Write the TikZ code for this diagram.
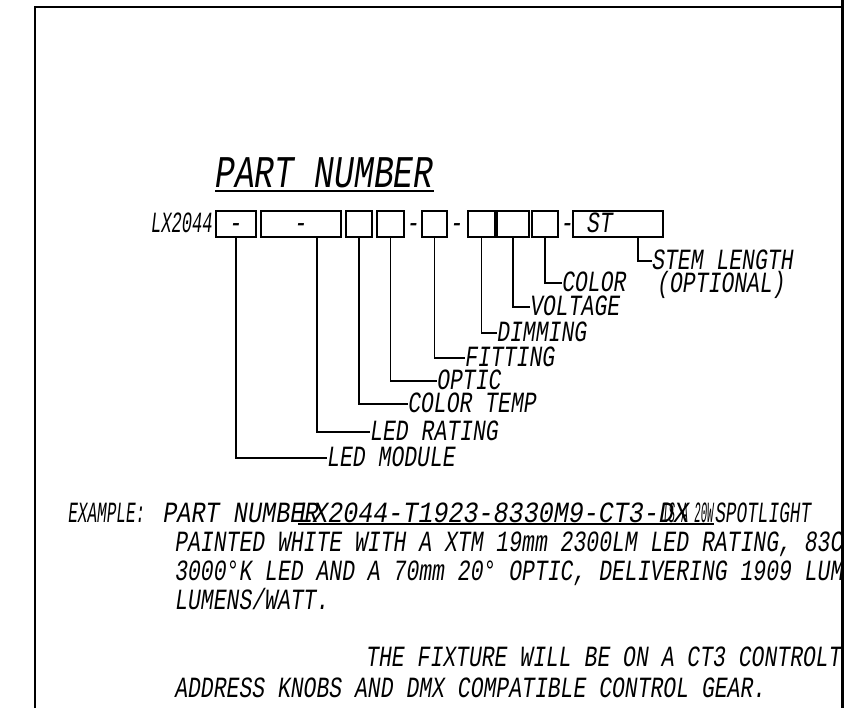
\documentclass[tikz,border=0pt]{standalone}
\usepackage{graphicx}
\usepackage{fontspec}
\setmonofont{Liberation Mono}[FakeStretch=0.73]
\usetikzlibrary{calc}

% lettering like the CAD sheet
\newcommand\cadfont{\ttfamily\itshape\fontsize{22pt}{24pt}\selectfont}
\newcommand\cadtitle{\ttfamily\itshape\fontsize{34pt}{36pt}\selectfont}

\begin{document}
\begin{tikzpicture}[x=0.75pt, y=-0.75pt,
  cell/.style={draw, line width=1pt, minimum height=19.5pt, inner sep=0pt,
    font=\cadfont, text height=12.4pt, text depth=0pt},
  mark txt/.style={font=\cadfont, inner sep=0pt, text height=12.4pt, text depth=0pt},
  lbl/.style={mark txt, anchor=west},
  txt/.style={font=\cadfont, inner sep=0pt, anchor=base west},
  lead/.style={line width=1pt}]

\useasboundingbox (0,0) rectangle (850,708);

% Sheet frame
\draw[line width=1.5pt] (35,708) -- (35,7) -- (842,7);
\draw[line width=2.25pt] (842,0) -- (842,708);

% Title
\node[font=\cadtitle, inner sep=0pt, anchor=base west] (tTitle) at (215,187) {PART NUMBER};
\draw[line width=1pt] ($(tTitle.base west)+(0,4)$) -- ($(tTitle.base east)+(0,4)$);

% Part number boxes
\node[mark txt, anchor=east] (tCode) at (213,224) {\scalebox{0.8}[1]{LX2044}};
\node[cell, minimum width=30pt] (bModule) at (236,224) {-};
\node[cell, minimum width=60pt] (bRating) at (301,224) {-};
\node[cell, minimum width=19.5pt] (bTemp) at (359,224) {};
\node[cell, minimum width=20.25pt] (bOptic) at (390.5,224) {};
\node[mark txt] (dA) at (413.5,224) {-};
\node[cell, minimum width=18.75pt] (bFitting) at (434.5,224) {};
\node[mark txt] (dB) at (457,224) {-};
\node[cell, minimum width=20.25pt] (bDimming) at (481.5,224) {};
\node[cell, minimum width=24pt] (bVoltage) at (513,224) {};
\node[cell, minimum width=19.5pt] (bColor) at (545,224) {};
\node[mark txt] (dC) at (567.5,224) {-};
\node[cell, minimum width=67.5pt] (bStem) at (618,224) {};
\node[mark txt] (tST) at (600,224) {ST};

% Field names
\node[lbl] (lModule) at (327,458) {LED MODULE};
\node[lbl] (lRating) at (370,432) {LED RATING};
\node[lbl] (lTemp) at (408,404) {COLOR TEMP};
\node[lbl] (lOptic) at (437,381) {OPTIC};
\node[lbl] (lFitting) at (465,358) {FITTING};
\node[lbl] (lDimming) at (497,333) {DIMMING};
\node[lbl] (lVoltage) at (530,307) {VOLTAGE};
\node[lbl] (lColor) at (562,283) {COLOR};
\node[lbl] (lStem) at (652,261) {STEM LENGTH};
\node[lbl] (lOpt) at (657,284) {(OPTIONAL)};

% Leaders
\draw[lead] (bModule.south) |- (lModule.west);
\draw[lead] ($(bRating.south)+(16,0)$) |- (lRating.west);
\draw[lead] (bTemp.south) |- (lTemp.west);
\draw[lead] (bOptic.south) |- (lOptic.west);
\draw[lead] (bFitting.south) |- (lFitting.west);
\draw[lead] (bDimming.south) |- (lDimming.west);
\draw[lead] (bVoltage.south) |- (lVoltage.west);
\draw[lead] (bColor.south) |- (lColor.west);
\draw[lead] ($(bStem.south)+(20,0)$) |- (lStem.west);

% Example text (cut off by the frame)
\begin{scope}
\clip (36,8) rectangle (841,708);
\node[txt] (eHead) at (68,522) {\scalebox{0.75}[1]{EXAMPLE:}};
\node[txt] (ePart) at (163,522) {\scalebox{1.1}[1]{PART NUMBER}};
\node[txt] (eCode) at (298,522) {\scalebox{1.17}[1]{LX2044-T1923-8330M9-CT3-DX}};
\node[txt] (eIs) at (662,522) {\scalebox{0.5}[1]{IS A 20W}};
\node[txt] (eSpot) at (715,522) {\scalebox{0.83}[1]{SPOTLIGHT}};
\draw[line width=0.8pt] ($(eCode.base west)+(0,2)$) -- ($(eIs.base east)+(0,2)$);
\node[txt] (eLineB) at (175,551) {PAINTED WHITE WITH A XTM 19mm 2300LM LED RATING, 83C};
\node[txt] (eLineC) at (175,580) {3000°K LED AND A 70mm 20° OPTIC, DELIVERING 1909 LUME};
\node[txt] (eLineD) at (175,609) {LUMENS/WATT.};
\node[txt] (eLineE) at (366,666) {THE FIXTURE WILL BE ON A CT3 CONTROLTR};
\node[txt] (eLineF) at (175,697) {ADDRESS KNOBS AND DMX COMPATIBLE CONTROL GEAR.};
\end{scope}

\end{tikzpicture}
\end{document}
